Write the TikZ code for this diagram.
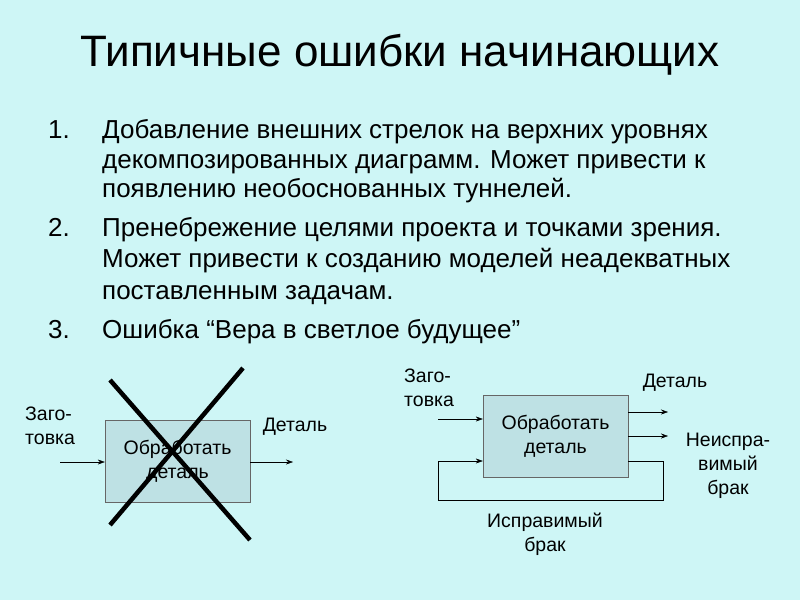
\documentclass[tikz,border=0pt]{standalone}
\usepackage{fontspec}
\setmainfont{Liberation Sans}
\usetikzlibrary{arrows.meta}
\definecolor{bg}{RGB}{206,246,246}
\definecolor{boxf}{RGB}{190,225,228}
\begin{document}
\begin{tikzpicture}[x=1pt,y=-1pt,
  lst/.style={anchor=base west,font=\fontsize{26}{30}\selectfont,inner sep=0},
  lbl/.style={font=\fontsize{19.5}{24}\selectfont,align=center,inner sep=0},
  proc/.style={draw=gray!80!black,fill=boxf,minimum width=145pt,minimum height=82pt,font=\fontsize{19.5}{24}\selectfont,align=center},
  arr/.style={-{Stealth[length=7pt,width=5pt]},thin}]
\fill[bg] (0,0) rectangle (800,600);
\useasboundingbox (0,0) rectangle (800,600);
\node[font=\fontsize{44}{48}\selectfont] (title) at (400,55) {Типичные ошибки начинающих};
\node[lst] (n1) at (48,138) {1.};
\node[lst] (t1a) at (102,138) {Добавление внешних стрелок на верхних уровнях};
\node[lst] (t1b) at (102,168) {декомпозированных диаграмм. Может привести к};
\node[lst] (t1c) at (102,197) {появлению необоснованных туннелей.};
\node[lst] (n2) at (48,236) {2.};
\node[lst] (t2a) at (102,236) {Пренебрежение целями проекта и точками зрения.};
\node[lst] (t2b) at (102,267) {Может привести к созданию моделей неадекватных};
\node[lst] (t2c) at (102,299) {поставленным задачам.};
\node[lst] (n3) at (48,338) {3.};
\node[lst] (t3) at (102,338) {Ошибка “Вера в светлое будущее”};
% left diagram
\node[proc] (b1) at (177.5,461) {Обработать\\деталь};
\coordinate (i1) at (60,462);
\coordinate (o1) at (293,462);
\draw[arr] (i1) -- (i1 -| b1.west);
\draw[arr] (o1 -| b1.east) -- (o1);
\node[lbl,anchor=west] (z1) at (25,426) {\parbox{70pt}{Заго-\\товка}};
\node[lbl] (d1) at (295,427) {Деталь};
\coordinate (x1a) at (110,380); \coordinate (x1b) at (250,540);
\coordinate (x2a) at (243,368); \coordinate (x2b) at (110,525);
\draw[line width=4.5pt] (x1a) -- (x1b);
\draw[line width=4.5pt] (x2a) -- (x2b);
% right diagram
\node[proc] (b2) at (555.5,436) {Обработать\\деталь};
\coordinate (i2) at (438,419);
\coordinate (fb) at (663,500);
\draw[arr] (i2) -- (i2 -| b2.west);
\draw[arr] (b2.east |- 0,412) -- (668,412);
\draw[arr] (b2.east |- 0,436) -- (668,436);
\draw[arr] (b2.east |- 0,461) -| (fb) -| (438,461) -- (b2.west |- 0,461);
\node[lbl,anchor=west] (z2) at (404,388) {\parbox{70pt}{Заго-\\товка}};
\node[lbl] (d2) at (675,383) {Деталь};
\node[lbl] (nb) at (728,466) {Неиспра-\\вимый\\брак};
\node[lbl] (ib) at (545,534) {Исправимый\\брак};
\end{tikzpicture}
\end{document}
